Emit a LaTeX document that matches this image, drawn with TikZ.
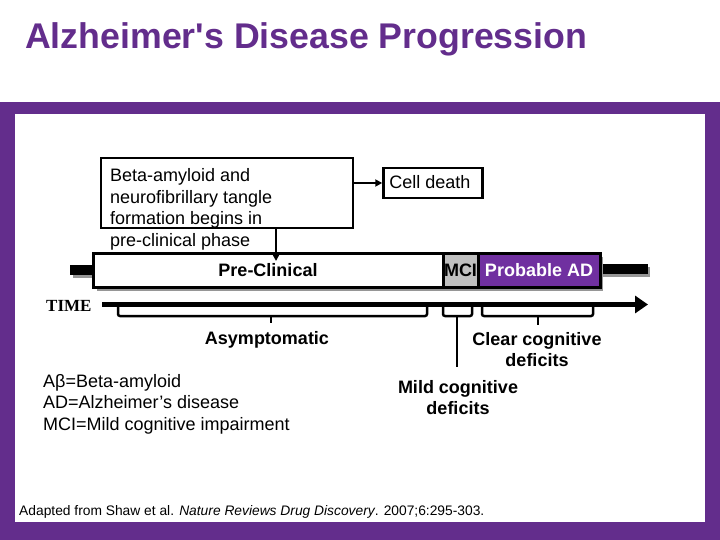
\documentclass[tikz,border=0pt]{standalone}
\usepackage{fontspec}
\setmainfont{Liberation Sans}
\newfontfamily\tnr{Liberation Serif}
\usetikzlibrary{arrows.meta}
\definecolor{purp}{RGB}{99,45,140}
\definecolor{adpurp}{RGB}{112,48,160}
\definecolor{shad}{RGB}{150,150,150}
\definecolor{mcigray}{RGB}{192,192,192}
\begin{document}
\begin{tikzpicture}[x=1pt,y=-1pt,
  txt/.style={inner sep=0pt, font=\fontsize{18}{21.5}\selectfont},
  btxt/.style={inner sep=0pt, font=\fontsize{18}{21.5}\selectfont\bfseries},
  box/.style={draw, line width=2.5pt, inner sep=0pt},
  barbox/.style={draw, line width=3pt, inner sep=0pt, minimum height=34pt},
  brk/.style={line width=2.5pt, rounded corners=2pt},
  conn/.style={line width=2pt, -{Triangle[length=7pt,width=7pt]}}]
\useasboundingbox (0,0) rectangle (720,540);
\fill[white] (0,0) rectangle (720,540);
\fill[purp] (0,102) rectangle (720,540);
\fill[white] (15,114) rectangle (705,522);
% title
\node[anchor=base west, inner sep=0pt, font=\fontsize{35.7}{40}\selectfont\bfseries, text=purp] (title) at (25,49) {Alzheimer\textquotesingle s Disease Progression};
% beta box
\node[box, minimum width=252pt, minimum height=70pt] (beta) at (227,193) {};
\node[txt, anchor=base west] (b1) at (110,182) {Beta-amyloid and};
\node[txt, anchor=base west] (b2) at (110,203.5) {neurofibrillary tangle};
\node[txt, anchor=base west] (b3) at (110,225) {formation begins in};
\node[txt, anchor=base west] (b4) at (110,246.5) {pre-clinical phase};
% cell death
\node[box, minimum width=99pt, minimum height=30pt] (cell) at (433,183) {};
\node[txt, anchor=base] (celltxt) at (430,189) {Cell death};
\draw[conn] (beta.east |- cell.west) -- (cell.west);
% stubs and shadow
\fill[shad] (73,268) rectangle (96,278);
\fill[black] (70,265) rectangle (93,275);
\fill[shad] (603,267) rectangle (650,277);
\fill[black] (600,264) rectangle (648,274);
\fill[shad] (97,257) rectangle (603,291);
% bar
\node[barbox, fill=white, minimum width=350pt, btxt] (pre) at (268,270) {Pre-Clinical};
\node[barbox, fill=mcigray, minimum width=35pt, btxt] (mci) at (460.5,270) {MCI};
\node[barbox, fill=adpurp, minimum width=122pt, btxt, text=white] (ad) at (539,270) {Probable AD};
% arrow down
\coordinate (ptip) at (276,261);
\draw[conn] (ptip |- beta.south) -- (ptip);
% time axis
\node[inner sep=0pt, anchor=base west, font=\tnr\fontsize{17}{19}\selectfont\bfseries] (time) at (46,311) {TIME};
\coordinate (tstart) at (102,304.5);
\coordinate (tend) at (648,304.5);
\draw[line width=5pt, -{Triangle[length=13pt,width=17pt]}] (tstart) -- (tend);
% brackets
\draw[brk] (118,307) -- (118,316) -- (427,316) -- (427,307);
\draw[line width=2.5pt] (271,316) -- (271,323);
\draw[brk] (443,307) -- (443,316) -- (472,316) -- (472,307);
\draw[line width=2.5pt] (457,316) -- (457,367);
\draw[brk] (482,307) -- (482,316) -- (593,316) -- (593,307);
\draw[line width=2.5pt] (538,316) -- (538,325);
% labels
\node[btxt, anchor=base] (asym) at (267,344) {Asymptomatic};
\node[btxt, anchor=base] (clear1) at (537,345) {Clear cognitive};
\node[btxt, anchor=base] (clear2) at (537,366.5) {deficits};
\node[btxt, anchor=base] (mild1) at (458,393) {Mild cognitive};
\node[btxt, anchor=base] (mild2) at (458,414.5) {deficits};
% legend
\node[txt, anchor=base west] (l1) at (43,387) {Aβ=Beta-amyloid};
\node[txt, anchor=base west] (l2) at (43,408.5) {AD=Alzheimer’s disease};
\node[txt, anchor=base west] (l3) at (43,430) {MCI=Mild cognitive impairment};
% footer
\node[inner sep=0pt, anchor=base west, font=\fontsize{13.8}{16}\selectfont] (foot) at (19,515) {Adapted from Shaw et al. \textit{Nature Reviews Drug Discovery}. 2007;6:295-303.};
\end{tikzpicture}
\end{document}
